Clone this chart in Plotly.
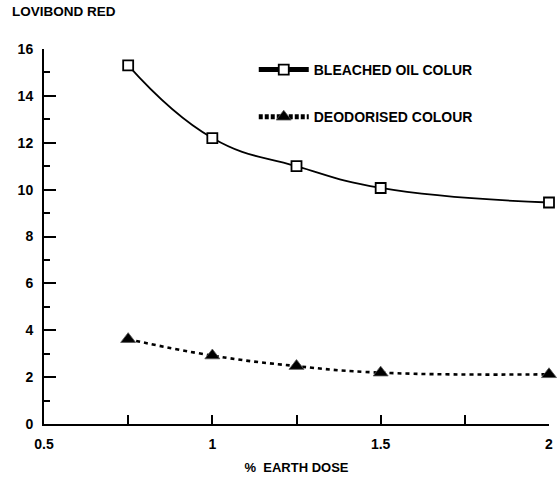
import plotly.graph_objects as go

# Data
dose = [0.75, 1.0, 1.25, 1.5, 2.0]
bleached = [15.3, 12.2, 11.0, 10.07, 9.45]
deodorised = [3.62, 2.92, 2.47, 2.19, 2.12]

x_ticks = [0.5, 1, 1.5, 2]
x_tick_labels = ["0.5", "1", "1.5", "2"]
y_ticks = [0, 2, 4, 6, 8, 10, 12, 14, 16]
y_tick_labels = [str(v) for v in y_ticks]

FONT = "Liberation Sans, Arial, sans-serif"

fig = go.Figure()

# Data traces (thin lines)
fig.add_trace(go.Scatter(
    x=dose, y=bleached, mode="lines+markers",
    line=dict(color="black", width=1.8, shape="spline", smoothing=1.3),
    marker=dict(symbol="square", size=10, color="white",
                line=dict(color="black", width=1.8)),
    showlegend=False, cliponaxis=False,
))
fig.add_trace(go.Scatter(
    x=dose, y=deodorised, mode="lines+markers",
    line=dict(color="black", width=2.6, dash="4px,4px", shape="spline", smoothing=1.3),
    marker=dict(symbol="triangle-up", size=13, color="black",
                line=dict(color="#555555", width=0.8)),
    showlegend=False, cliponaxis=False,
))

# Legend entries (thick symbol lines, as in the reference)
fig.add_trace(go.Scatter(
    x=[None], y=[None], mode="lines+markers", name="BLEACHED OIL COLUR",
    line=dict(color="black", width=5),
    marker=dict(symbol="square", size=10, color="white",
                line=dict(color="black", width=1.8)),
    legendgroup="a",
))
fig.add_trace(go.Scatter(
    x=[None], y=[None], mode="lines+markers", name="DEODORISED COLOUR",
    line=dict(color="black", width=5, dash="4px,2px"),
    marker=dict(symbol="triangle-up", size=13, color="black",
                line=dict(color="#555555", width=0.8)),
    legendgroup="b",
))

fig.update_layout(
    width=559, height=479,
    margin=dict(l=44, r=6, t=49, b=52),
    paper_bgcolor="white", plot_bgcolor="white",
    font=dict(family=FONT, size=14, color="black", weight="bold"),
    showlegend=True,
    legend=dict(
        x=(255 - 44) / 508, y=1 - (54 - 49) / 378,
        xanchor="left", yanchor="top",
        bgcolor="rgba(0,0,0,0)", borderwidth=0,
        font=dict(family=FONT, size=14, color="black", weight="bold"),
        tracegroupgap=26,
        itemwidth=50,
    ),
    xaxis=dict(
        range=[0.5, 2], showgrid=False, zeroline=False,
        showline=True, linecolor="black", linewidth=2,
        tickmode="array", tickvals=x_ticks, ticktext=x_tick_labels,
        ticks="inside", ticklen=9, tickwidth=2, tickcolor="black",
        minor=dict(ticks="inside", ticklen=9, tickwidth=2, tickcolor="black",
                   tickvals=[0.75, 1.25, 1.75]),
        tickfont=dict(family=FONT, size=14, color="black", weight="bold"),
        ticklabelstandoff=6,
        title=dict(text="%\u00a0\u00a0EARTH DOSE", standoff=12,
                   font=dict(family=FONT, size=13, color="black", weight="bold")),
    ),
    yaxis=dict(
        range=[0, 16], showgrid=False, zeroline=False,
        showline=True, linecolor="black", linewidth=2,
        tickmode="array", tickvals=y_ticks, ticktext=y_tick_labels,
        ticks="inside", ticklen=12, tickwidth=2, tickcolor="black",
        minor=dict(ticks="inside", ticklen=6, tickwidth=2, tickcolor="black",
                   tickvals=[1, 3, 5, 7, 9, 11, 13, 15]),
        tickfont=dict(family=FONT, size=14, color="black", weight="bold"),
        ticklabelstandoff=6,
    ),
    annotations=[dict(
        text="LOVIBOND RED", xref="paper", yref="paper",
        x=(10 - 44) / 509, y=1, xanchor="left", yanchor="middle",
        yshift=49 - 11, showarrow=False,
        font=dict(family=FONT, size=13.5, color="black", weight="bold"),
    )],
)

fig.write_html("out.html", config={"displayModeBar": False},
               post_script="document.body.style.margin='0';")
